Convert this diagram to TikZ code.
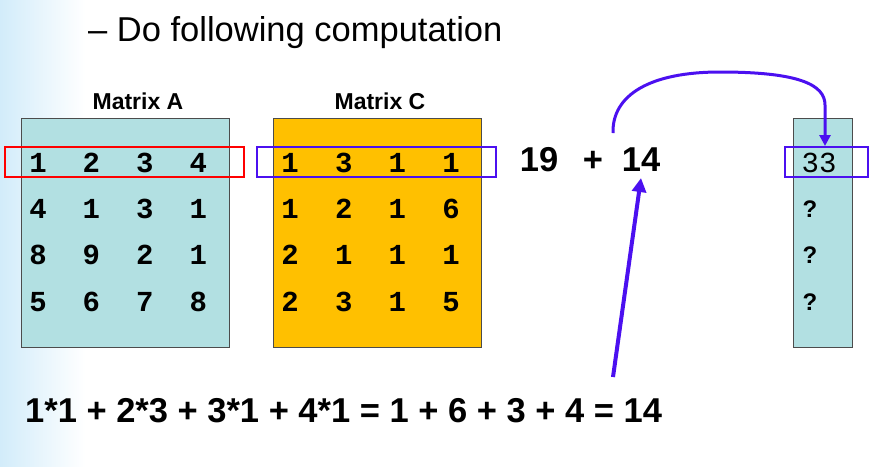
\documentclass[tikz,border=0pt]{standalone}
\usepackage{fontspec}
\setmainfont{Liberation Sans}
\newfontfamily\monof{Liberation Mono}
\usetikzlibrary{arrows.meta}
\definecolor{cellblue}{HTML}{B2E0E2}
\definecolor{cellorange}{HTML}{FFC000}
\definecolor{arrblue}{HTML}{4B10F0}
\definecolor{edgeblue}{HTML}{D2ECFA}
\tikzset{
  mat/.style={draw=black!70, line width=1pt},
  num/.style={font=\monof\bfseries\fontsize{29}{29}\selectfont, inner sep=0pt, anchor=base},
  big/.style={font=\bfseries\fontsize{34.5}{34.5}\selectfont, inner sep=0pt, anchor=base},
  lab/.style={font=\bfseries\fontsize{23}{23}\selectfont, inner sep=0pt},
  hl/.style={line width=2.5pt},
  arr/.style={draw=arrblue, line width=4pt, -{Triangle[length=14pt,width=14pt]}}
}
\begin{document}
\begin{tikzpicture}[x=1pt,y=-1pt]
\useasboundingbox (0,0) rectangle (874,466);
\shade[left color=edgeblue, right color=white] (0,0) rectangle (85,466);
\node[anchor=west, font=\fontsize{34.5}{34.5}\selectfont, inner sep=0pt] (title) at (88,33) {– Do following computation};
\node[lab] (la) at (138,101) {Matrix A};
\node[lab] (lc) at (380,101) {Matrix C};
\draw[mat, fill=cellblue] (21,118) rectangle (229,347);
\draw[mat, fill=cellorange] (273,118) rectangle (481,347);
\draw[mat, fill=cellblue] (793,118) rectangle (852,347);
\foreach \r [count=\i] in {{1,2,3,4},{4,1,3,1},{8,9,2,1},{5,6,7,8}} {
  \foreach \v [count=\j] in \r {
    \node[num] (a\i\j) at ({38+53.4*(\j-1)}, {172+46.4*(\i-1)}) {\v};
  }
}
\foreach \r [count=\i] in {{1,3,1,1},{1,2,1,6},{2,1,1,1},{2,3,1,5}} {
  \foreach \v [count=\j] in \r {
    \node[num] (c\i\j) at ({290+53.7*(\j-1)}, {172+46.4*(\i-1)}) {\v};
  }
}
\draw[hl, draw=red] (5,147) rectangle (244,177);
\draw[hl, draw=arrblue] (257,147) rectangle (496,177);
\node[font=\monof\fontsize{29}{29}\selectfont, inner sep=0pt, anchor=base] (r1) at (819,172) {33};
\foreach \i in {2,3,4} \node[font=\bfseries\fontsize{24}{24}\selectfont, inner sep=0pt, anchor=base] (r\i) at (810,{171+46.4*(\i-1)}) {?};
\draw[hl, draw=arrblue] (785,147) rectangle (868,177);
\node[big] (s19) at (539,171) {19};
\node[big] (plus) at (593,171) {+};
\node[big] (s14) at (641,171) {14};
\node[big, anchor=base west] (eq) at (25,422) {1*1 + 2*3 + 3*1 + 4*1 = 1 + 6 + 3 + 4 = 14};
\coordinate (ctail) at (613,133);
\coordinate (atail) at (613,377);
\coordinate (ahead) at (641,178);
\coordinate (chead) at (825,146);
\draw[arr] (atail) -- (ahead);
\draw[draw=arrblue, line width=3pt, -{Triangle[length=11pt,width=11pt]}] (ctail) .. controls (612,95) and (650,72) .. (720,72) .. controls (800,72) and (825,85) .. (825,105) -- (chead);
\end{tikzpicture}
\end{document}
